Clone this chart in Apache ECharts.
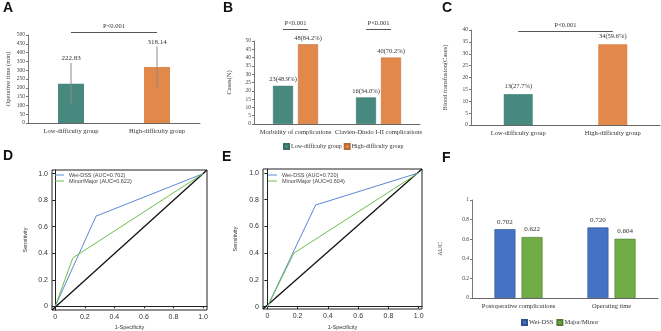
<!DOCTYPE html>
<html>
<head>
<meta charset="utf-8">
<script src="https://cdn.jsdelivr.net/npm/echarts@6/dist/echarts.min.js"></script>
<style>
  html, body { margin: 0; padding: 0; background: #fff; }
  #chart { width: 661px; height: 331px; }
</style>
</head>
<body>
<div id="chart"></div>
<script>
// panel A: operative time
const groupNames = ['Low-difficulty group', 'High-difficulty group'];
const opTimeMean = [222.83, 318.14];
const opTimeSD = [118, 117];

// panel B: complications
const compCategories = ['Morbidity of complications', 'Clavien-Dindo I-II complications'];
const compLow = [23, 16];
const compHigh = [48, 40];
const compLowLabels = ['23(48.9%)', '16(34.0%)'];
const compHighLabels = ['48(84.2%)', '40(70.2%)'];

// panel C: blood transfusion
const transfusion = [13, 34];
const transfusionLabels = ['13(27.7%)', '34(59.6%)'];

// panels D / E: ROC curves
const rocComplWei = [[0, 0], [0.276, 0.68], [1, 1]];
const rocComplMinor = [[0, 0], [0.119, 0.365], [1, 1]];
const rocTimeWei = [[0, 0], [0.319, 0.76], [1, 1]];
const rocTimeMinor = [[0, 0], [0.175, 0.40], [1, 1]];
const rocTicks = [0, 0.2, 0.4, 0.6, 0.8, 1.0];

// panel F: AUC
const aucCategories = ['Postoperative complications', 'Operating time'];
const aucWei = [0.702, 0.720];
const aucMinor = [0.622, 0.604];

const SERIF = '"Liberation Serif", "DejaVu Serif", serif';
const SANS = '"Liberation Sans", Arial, sans-serif';
const TEAL = '#47897f';
const ORANGE = '#e2884a';
const BLUE = '#4472c4';
const GREEN = '#70ad47';

const chart = echarts.init(document.getElementById('chart'));

function barX(gi, data) {
  return {
    gridIndex: gi, type: 'category', data: data,
    axisLine: { lineStyle: { color: '#666', width: 1 } },
    axisTick: { show: false },
    axisLabel: { interval: 0, fontFamily: SERIF, fontSize: 6.5, color: '#333', margin: 5 }
  };
}
function barY(gi, max, interval, name, nameGap) {
  return {
    gridIndex: gi, type: 'value', min: 0, max: max, interval: interval,
    name: name, nameLocation: 'middle', nameGap: nameGap,
    nameTextStyle: { fontFamily: SERIF, fontSize: 6.5, color: '#444' },
    axisLine: { show: true, lineStyle: { color: '#777', width: 1 } },
    axisTick: { show: true, length: 2, lineStyle: { color: '#777' } },
    splitLine: { show: false },
    axisLabel: { fontFamily: SERIF, fontSize: 5.5, color: '#444', margin: 3 }
  };
}
function rocX(gi, min, max, nameGap) {
  return {
    gridIndex: gi, type: 'value', min: min, max: max,
    name: '1-Specificity', nameLocation: 'middle', nameGap: nameGap,
    nameTextStyle: { fontFamily: SANS, fontSize: 5.5, color: '#333' },
    axisLine: { show: true, lineStyle: { color: '#222', width: 1 } },
    axisTick: { show: true, length: 2, customValues: rocTicks, lineStyle: { color: '#222' } },
    splitLine: { show: false },
    axisLabel: {
      customValues: rocTicks, fontFamily: SANS, fontSize: 7, color: '#333', margin: 4,
      formatter: v => (v === 0 ? '0' : v.toFixed(1))
    }
  };
}
function rocY(gi, min, max, nameGap) {
  return {
    gridIndex: gi, type: 'value', min: min, max: max,
    name: 'Sensitivity', nameLocation: 'middle', nameGap: nameGap,
    nameTextStyle: { fontFamily: SANS, fontSize: 5.5, color: '#333' },
    axisLine: { show: true, lineStyle: { color: '#222', width: 1 } },
    axisTick: { show: true, length: 3, customValues: rocTicks, lineStyle: { color: '#222' } },
    splitLine: { show: false },
    axisLabel: {
      customValues: rocTicks, fontFamily: SANS, fontSize: 7, color: '#333', margin: 4,
      formatter: v => (v === 0 ? '0' : v.toFixed(1))
    }
  };
}
function rocLine(name, xi, data, color, width, z) {
  return {
    name: name, type: 'line', xAxisIndex: xi, yAxisIndex: xi, data: data,
    symbol: 'none', lineStyle: { color: color, width: width }, itemStyle: { color: color },
    z: z || 2, silent: true
  };
}

const rocRangeD = { x: [-0.022, 1.027], y: [-0.028, 1.028] };
const rocRangeE = { x: [-0.029, 1.022], y: [-0.017, 1.029] };

const option = {
  animation: false,
  backgroundColor: '#fff',
  grid: [
    { left: 28, top: 35, width: 172, height: 88 },
    { left: 254, top: 41, width: 166, height: 83 },
    { left: 471, top: 30, width: 189, height: 95 },
    { left: 52, top: 170, width: 155, height: 141, show: true, borderColor: '#222', borderWidth: 1 },
    { left: 263, top: 169, width: 159, height: 143, show: true, borderColor: '#222', borderWidth: 1 },
    { left: 472, top: 200, width: 186, height: 98 }
  ],
  xAxis: [
    barX(0, groupNames),
    barX(1, compCategories),
    barX(2, groupNames),
    rocX(3, rocRangeD.x[0], rocRangeD.x[1], 14),
    rocX(4, rocRangeE.x[0], rocRangeE.x[1], 15),
    barX(5, aucCategories)
  ],
  yAxis: [
    barY(0, 500, 50, 'Operative time (min)', 16),
    barY(1, 50, 5, 'Cases(N)', 21),
    barY(2, 40, 5, 'Blood transfusion(Cases)', 22),
    rocY(3, rocRangeD.y[0], rocRangeD.y[1], 24),
    rocY(4, rocRangeE.y[0], rocRangeE.y[1], 25),
    barY(5, 1, 0.2, 'AUC', 28)
  ],
  legend: [
    {
      data: ['Low-difficulty group', 'High-difficulty group'],
      left: 278, top: 138, itemWidth: 5, itemHeight: 5, itemGap: 2, icon: 'rect',
      textStyle: { fontFamily: SERIF, fontSize: 6, color: '#333', padding: [0, 0, 0, -3] }
    },
    {
      data: ['Wei-DSS (AUC=0.702)', 'Minor/Major (AUC=0.622)'],
      left: 55, top: 172, orient: 'vertical', itemWidth: 9, itemHeight: 1, itemGap: 0,
      icon: 'rect', padding: 0,
      textStyle: { fontFamily: SANS, fontSize: 5.5, color: '#444' }
    },
    {
      data: ['Wei-DSS (AUC=0.720)', 'Minor/Major (AUC=0.604)'],
      left: 268, top: 172, orient: 'vertical', itemWidth: 9, itemHeight: 1, itemGap: 0,
      icon: 'rect', padding: 0,
      textStyle: { fontFamily: SANS, fontSize: 5.5, color: '#444' }
    },
    {
      data: ['Wei-DSS', 'Major/Minor'],
      left: 516, top: 314, itemWidth: 5, itemHeight: 5, itemGap: 3, icon: 'rect',
      textStyle: { fontFamily: SERIF, fontSize: 6.5, color: '#333', padding: [0, 0, 0, -3] }
    }
  ],
  series: [
    // A
    {
      type: 'bar', xAxisIndex: 0, yAxisIndex: 0, barWidth: 26,
      data: opTimeMean.map((v, i) => ({ value: v, itemStyle: { color: i === 0 ? TEAL : ORANGE } }))
    },
    {
      type: 'custom', xAxisIndex: 0, yAxisIndex: 0, z: 5,
      data: opTimeMean.map((m, i) => [i, m - opTimeSD[i], m + opTimeSD[i], m]),
      renderItem: (params, api) => {
        const lo = api.coord([api.value(0), api.value(1)]);
        const hi = api.coord([api.value(0), api.value(2)]);
        return {
          type: 'group',
          children: [
            { type: 'line', shape: { x1: lo[0], y1: lo[1], x2: hi[0], y2: hi[1] },
              style: { stroke: '#8a8a8a', lineWidth: 1 } },
            { type: 'text', x: hi[0], y: hi[1] - 1,
              style: { text: api.value(3).toFixed(2), align: 'center', verticalAlign: 'bottom',
                       font: '7px ' + SERIF, fill: '#333' } }
          ]
        };
      }
    },
    // B
    {
      name: 'Low-difficulty group', type: 'bar', xAxisIndex: 1, yAxisIndex: 1,
      barWidth: 20, barGap: '25%', data: compLow,
      itemStyle: { color: TEAL, borderColor: '#3a7068', borderWidth: 0.5 },
      label: { show: true, position: 'top', distance: 3, fontFamily: SERIF, fontSize: 6.5, color: '#333',
               formatter: p => compLowLabels[p.dataIndex] }
    },
    {
      name: 'High-difficulty group', type: 'bar', xAxisIndex: 1, yAxisIndex: 1,
      barWidth: 20, barGap: '25%', data: compHigh,
      itemStyle: { color: ORANGE, borderColor: '#b86a34', borderWidth: 0.5 },
      label: { show: true, position: 'top', distance: 3, fontFamily: SERIF, fontSize: 6.5, color: '#333',
               formatter: p => compHighLabels[p.dataIndex] }
    },
    // C
    {
      type: 'bar', xAxisIndex: 2, yAxisIndex: 2, barWidth: 29,
      data: transfusion.map((v, i) => ({ value: v, itemStyle: { color: i === 0 ? TEAL : ORANGE } })),
      label: { show: true, position: 'top', distance: 4, fontFamily: SERIF, fontSize: 6.5, color: '#333',
               formatter: p => transfusionLabels[p.dataIndex] }
    },
    // D
    rocLine('Wei-DSS (AUC=0.702)', 3, rocComplWei, '#5b88d6', 1),
    rocLine('Minor/Major (AUC=0.622)', 3, rocComplMinor, '#6cbf4c', 1),
    rocLine('refD', 3, [[rocRangeD.x[0], rocRangeD.y[0]], [rocRangeD.x[1], rocRangeD.y[1]]], '#111', 1.3, 1),
    // E
    rocLine('Wei-DSS (AUC=0.720)', 4, rocTimeWei, '#5b88d6', 1),
    rocLine('Minor/Major (AUC=0.604)', 4, rocTimeMinor, '#6cbf4c', 1),
    rocLine('refE', 4, [[rocRangeE.x[0], rocRangeE.y[0]], [rocRangeE.x[1], rocRangeE.y[1]]], '#111', 1.3, 1),
    // F
    {
      name: 'Wei-DSS', type: 'bar', xAxisIndex: 5, yAxisIndex: 5, barWidth: 21, barGap: '29%',
      data: aucWei, itemStyle: { color: BLUE, borderColor: '#2f528f', borderWidth: 0.6 },
      label: { show: true, position: 'top', distance: 4, fontFamily: SERIF, fontSize: 7, color: '#333',
               formatter: p => p.value.toFixed(3) }
    },
    {
      name: 'Major/Minor', type: 'bar', xAxisIndex: 5, yAxisIndex: 5, barWidth: 21, barGap: '29%',
      data: aucMinor, itemStyle: { color: GREEN, borderColor: '#507e32', borderWidth: 0.6 },
      label: { show: true, position: 'top', distance: 4, fontFamily: SERIF, fontSize: 7, color: '#333',
               formatter: p => p.value.toFixed(3) }
    }
  ]
};

chart.setOption(option);

// significance brackets, placed through the axes
function bracket(gi, cat0, dx0, cat1, dx1, yVal) {
  const a = chart.convertToPixel({ gridIndex: gi }, [cat0, yVal]);
  const b = chart.convertToPixel({ gridIndex: gi }, [cat1, yVal]);
  const x1 = a[0] + dx0, x2 = b[0] + dx1, y = Math.round(a[1]) + 0.5;
  return [
    { type: 'line', shape: { x1: x1, y1: y, x2: x2, y2: y }, style: { stroke: '#555', lineWidth: 1 } },
    { type: 'text', x: (x1 + x2) / 2, y: y - 3,
      style: { text: 'P<0.001', align: 'center', verticalAlign: 'bottom', font: '6.5px ' + SERIF, fill: '#333' } }
  ];
}
const barOffB = 12.5;
const graphics = []
  .concat(bracket(0, 0, 0, 1, 0, 517))
  .concat(bracket(1, 0, -barOffB, 0, barOffB, 57))
  .concat(bracket(1, 1, -barOffB, 1, barOffB, 57))
  .concat(bracket(2, 0, 0, 1, 0, 39.6));

const panelLetters = [['A', 3, 1], ['B', 223, 1], ['C', 442, 1], ['D', 3, 149], ['E', 222, 150], ['F', 442, 151]];
panelLetters.forEach(([t, x, y]) => {
  graphics.push({ type: 'text', x: x, y: y,
    style: { text: t, font: 'bold 14px ' + SANS, fill: '#111' } });
});

chart.setOption({ graphic: graphics });
</script>
</body>
</html>
